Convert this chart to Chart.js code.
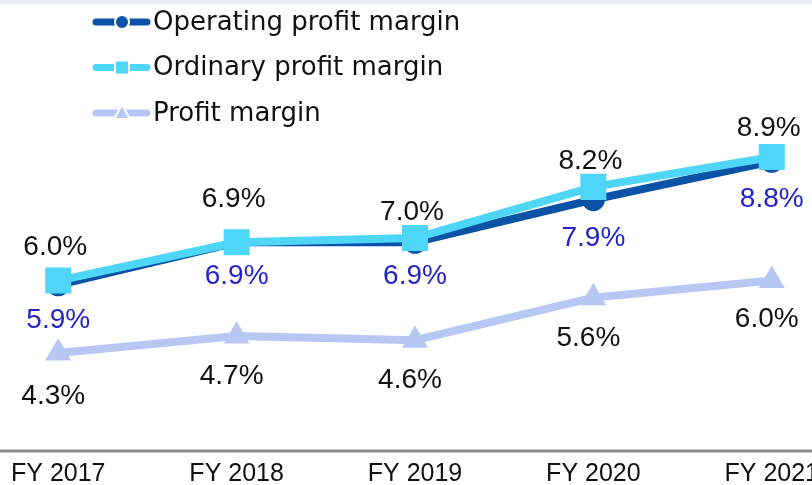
<!DOCTYPE html>
<html>
<head>
<meta charset="utf-8">
<script src="https://cdn.jsdelivr.net/npm/chart.js@4.4.1/dist/chart.umd.min.js"></script>
<style>
  html, body { margin: 0; padding: 0; background: #fff; overflow: hidden; }
  #wrap { position: relative; width: 812px; height: 485px; overflow: hidden; }
  #topband { position: absolute; left: 0; top: 0; width: 812px; height: 4px; background: #e6edf8; }
  #myChart { position: absolute; left: 0; top: 0; }
</style>
</head>
<body>
<div id="wrap">
  <canvas id="myChart" width="830" height="498"></canvas>
  <div id="topband"></div>
</div>
<script>
const years = ['FY 2017', 'FY 2018', 'FY 2019', 'FY 2020', 'FY 2021'];
const operatingMargin = [5.9, 6.9, 6.9, 7.9, 8.8];
const ordinaryMargin = [6.0, 6.9, 7.0, 8.2, 8.9];
const profitMargin = [4.3, 4.7, 4.6, 5.6, 6.0];

// label nudges relative to each point (px)
const labelDy = [
  [35, 34, 34, 39, 38],
  [-33, -43, -26, -26, -29],
  [43, 40, 40, 41, 39]
];
const labelDx = [0, -3, -5];
const labelColor = ['#2323c8', '#111111', '#111111'];

const legendMarks = {
  id: 'legendMarks',
  beforeDraw(chart) {
    const c = chart.ctx;
    const y = chart.scales.y.getPixelForValue(chart.scales.y.min);
    c.save();
    c.strokeStyle = '#8c8c8c';
    c.lineWidth = 3;
    c.beginPath();
    c.moveTo(0, y);
    c.lineTo(chart.width, y);
    c.stroke();
    c.restore();
  },
  afterDraw(chart) {
    const c = chart.ctx;
    chart.data.datasets.forEach(function (ds, i) {
      const y = 22 + i * 45.5;
      c.save();
      c.strokeStyle = ds.borderColor;
      c.lineWidth = 7;
      c.lineCap = 'round';
      c.beginPath();
      c.moveTo(96, y);
      c.lineTo(147, y);
      c.stroke();
      c.lineCap = 'butt';
      c.fillStyle = ds.borderColor;
      c.strokeStyle = '#fff';
      c.lineWidth = 2;
      c.beginPath();
      if (ds.pointStyle == 'circle') {
        c.arc(122, y, 7, 0, Math.PI * 2);
      } else if (ds.pointStyle == 'rect') {
        c.rect(115, y - 7, 14, 14);
      } else {
        c.moveTo(122, y - 8);
        c.lineTo(130, y + 6);
        c.lineTo(114, y + 6);
        c.closePath();
      }
      c.fill();
      c.stroke();
      c.fillStyle = '#111';
      c.font = '26px "DejaVu Sans"';
      c.textAlign = 'left';
      c.textBaseline = 'middle';
      c.fillText(ds.label, 153, y + 1);
      c.restore();
    });
  }
};

const valueLabels = {
  id: 'valueLabels',
  afterDatasetsDraw(chart) {
    const c = chart.ctx;
    c.save();
    c.font = '28px "Liberation Sans"';
    c.textAlign = 'center';
    c.textBaseline = 'middle';
    chart.data.datasets.forEach(function (ds, i) {
      const meta = chart.getDatasetMeta(i);
      c.fillStyle = labelColor[i];
      meta.data.forEach(function (pt, j) {
        c.fillText(ds.data[j].toFixed(1) + '%', pt.x + labelDx[i], pt.y + labelDy[i][j]);
      });
    });
    c.restore();
  }
};

const ctx = document.getElementById('myChart');
new Chart(ctx, {
  type: 'line',
  data: {
    labels: years,
    datasets: [{
      label: 'Operating profit margin',
      data: operatingMargin,
      borderColor: '#0a52a6',
      backgroundColor: '#0a52a6',
      pointStyle: 'circle',
      pointRadius: 10.5,
      order: 1
    }, {
      label: 'Ordinary profit margin',
      data: ordinaryMargin,
      borderColor: '#4ed5f8',
      backgroundColor: '#4ed5f8',
      pointStyle: 'rect',
      pointRadius: 17,
      order: 0
    }, {
      label: 'Profit margin',
      data: profitMargin,
      borderColor: '#b6c7f3',
      backgroundColor: '#b6c7f3',
      pointStyle: 'triangle',
      pointRadius: 13,
      order: 2
    }]
  },
  options: {
    responsive: false,
    animation: false,
    devicePixelRatio: 1,
    elements: {
      line: { borderWidth: 8, tension: 0 },
      point: { borderColor: '#fff', borderWidth: 2 }
    },
    layout: {
      padding: { left: 58, right: 57, top: 25, bottom: 0 }
    },
    scales: {
      x: {
        offset: false,
        grid: { display: false, drawTicks: false },
        border: { display: false },
        ticks: {
          color: '#111',
          padding: 11,
          maxRotation: 0,
          autoSkip: false,
          font: { family: 'Liberation Sans', size: 25, lineHeight: 1 }
        }
      },
      y: {
        display: false,
        min: 2,
        max: 12
      }
    },
    plugins: {
      legend: { display: false },
      tooltip: { enabled: false }
    }
  },
  plugins: [legendMarks, valueLabels]
});
</script>
</body>
</html>
